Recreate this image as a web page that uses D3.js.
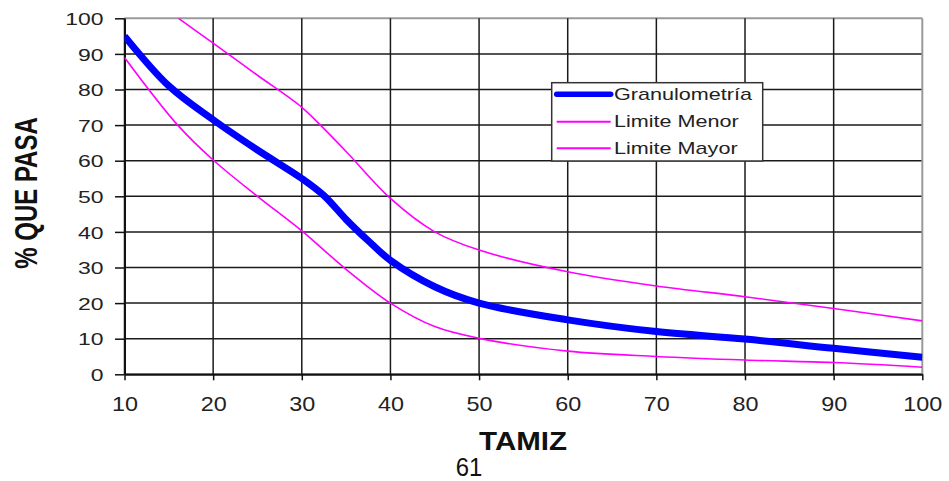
<!DOCTYPE html>
<html>
<head>
<meta charset="utf-8">
<script src="https://cdn.jsdelivr.net/npm/d3@7/dist/d3.min.js"></script>
<style>
  html, body { margin: 0; padding: 0; background: #fff; }
  svg { display: block; font-family: "Liberation Sans", Arial, sans-serif; }
</style>
</head>
<body>
<svg id="chart" width="949" height="481"></svg>
<script>
// Sieve sizes (x) and percent passing (y) for each curve
const gradX  = [10, 15, 20, 25, 30, 32.5, 35, 37.5, 40, 45, 50, 60, 70, 80, 90, 100];
const gradY  = [95, 81, 71.5, 63, 55, 50.2, 43.5, 37.5, 32, 24.6, 20, 15.3, 12, 9.9, 7.3, 4.8];

const lowerX = [10, 16, 20, 25, 30, 35, 40, 45, 50, 60, 70, 80, 90, 100];
const lowerY = [89, 70, 60.2, 50, 40.3, 29.5, 20, 13.4, 10.1, 6.5, 5, 4, 3.3, 2];

const upperX = [16.1, 20, 25, 30, 32.1, 35, 40, 45, 50, 60, 70, 80, 90, 100];
const upperY = [100, 93, 84, 75, 70, 62.6, 49.4, 40, 34.9, 28.8, 24.8, 21.8, 18.5, 15];

const xTicks = [10, 20, 30, 40, 50, 60, 70, 80, 90, 100];
const yTicks = [0, 10, 20, 30, 40, 50, 60, 70, 80, 90, 100];

const seriesNames = ["Granulometría", "Limite Menor", "Limite Mayor"];

const margin = { left: 124.5, top: 18.3, right: 949 - 922.3, bottom: 481 - 374.3 };
const W = 949, H = 481;
const pw = W - margin.left - margin.right;
const ph = H - margin.top - margin.bottom;

const svg = d3.select("#chart");
const g = svg.append("g").attr("transform", `translate(${margin.left},${margin.top})`);

const x = d3.scaleLinear().domain([10, 100]).range([0, pw]);
const y = d3.scaleLinear().domain([0, 100]).range([ph, 0]);

// grid
g.append("g").selectAll("line").data(yTicks).join("line")
  .attr("x1", 0).attr("x2", pw)
  .attr("y1", d => y(d)).attr("y2", d => y(d))
  .attr("stroke", d => d === 100 ? "#9a9a9a" : "#1a1a1a")
  .attr("stroke-width", d => d === 100 ? 2 : 1.5);
g.append("g").selectAll("line").data(xTicks).join("line")
  .attr("y1", 0).attr("y2", ph)
  .attr("x1", d => x(d)).attr("x2", d => x(d))
  .attr("stroke", d => d === 100 ? "#9a9a9a" : "#1a1a1a")
  .attr("stroke-width", d => d === 100 ? 2 : 1.5);

// axes
const ySx = 1.35, xSx = 1.17;
const yAxis = g.append("g").call(d3.axisLeft(y).tickValues(yTicks).tickSize(9.5).tickSizeOuter(0));
yAxis.select(".domain").attr("stroke", "#111").attr("stroke-width", 2);
yAxis.selectAll(".tick line").attr("stroke", "#111").attr("stroke-width", 1.5);
yAxis.selectAll(".tick text")
  .attr("x", -21 / ySx).attr("dy", "0.36em")
  .attr("transform", `scale(${ySx},1)`)
  .attr("font-size", 17).attr("fill", "#222");

const xAxis = g.append("g").attr("transform", `translate(0,${ph})`)
  .call(d3.axisBottom(x).tickValues(xTicks).tickSize(6).tickSizeOuter(0));
xAxis.select(".domain").attr("stroke", "#111").attr("stroke-width", 2);
xAxis.selectAll(".tick line").attr("stroke", "#111").attr("stroke-width", 1.5);
xAxis.selectAll(".tick text")
  .attr("x", 0).attr("y", 36.4).attr("dy", 0)
  .attr("transform", `scale(${xSx},1)`)
  .attr("font-size", 20).attr("fill", "#222");

// curves
svg.append("defs").append("clipPath").attr("id", "plotclip")
  .append("rect").attr("x", 0).attr("y", -1).attr("width", pw).attr("height", ph + 2);

const line = d3.line().x(d => x(d[0])).y(d => y(d[1])).curve(d3.curveCatmullRom.alpha(0.5));
const curves = g.append("g").attr("clip-path", "url(#plotclip)");
curves.append("path").datum(d3.zip(lowerX, lowerY)).attr("d", line)
  .attr("fill", "none").attr("stroke", "#ff00ff").attr("stroke-width", 1.6);
curves.append("path").datum(d3.zip(upperX, upperY)).attr("d", line)
  .attr("fill", "none").attr("stroke", "#ff00ff").attr("stroke-width", 1.6);
curves.append("path").datum(d3.zip(gradX, gradY)).attr("d", line)
  .attr("fill", "none").attr("stroke", "#0000ff").attr("stroke-width", 7);

// legend
const lg = svg.append("g").attr("transform", "translate(551.7,82.7)");
lg.append("rect").attr("width", 211).attr("height", 78.3)
  .attr("fill", "#fff").attr("stroke", "#333").attr("stroke-width", 1.5);
const rows = [
  { name: seriesNames[0], color: "#0000ff", w: 5.5, cap: "round" },
  { name: seriesNames[1], color: "#ff00ff", w: 2, cap: "butt" },
  { name: seriesNames[2], color: "#ff00ff", w: 2, cap: "butt" }
];
const rowY = [11.6, 39, 65.6];
rows.forEach((r, i) => {
  lg.append("line").attr("x1", 5).attr("x2", 59).attr("y1", rowY[i]).attr("y2", rowY[i])
    .attr("stroke", r.color).attr("stroke-width", r.w).attr("stroke-linecap", r.cap);
  lg.append("text").attr("transform", `translate(62.3,${rowY[i]}) scale(1.35,1)`)
    .attr("dy", "0.36em").attr("font-size", 16).attr("fill", "#222").text(r.name);
});

// axis titles
svg.append("text")
  .attr("transform", "translate(37.3,193) scale(1.3,1) rotate(-90)")
  .attr("text-anchor", "middle").attr("font-size", 24).attr("font-weight", "bold")
  .attr("fill", "#111").text("% QUE PASA");
svg.append("text")
  .attr("transform", "translate(523,450) scale(1.18,1)")
  .attr("text-anchor", "middle").attr("font-size", 25).attr("font-weight", "bold")
  .attr("fill", "#111").text("TAMIZ");
svg.append("text")
  .attr("transform", "translate(469,476) scale(0.92,1)")
  .attr("text-anchor", "middle").attr("font-size", 26)
  .attr("fill", "#111").text("61");
</script>
</body>
</html>
